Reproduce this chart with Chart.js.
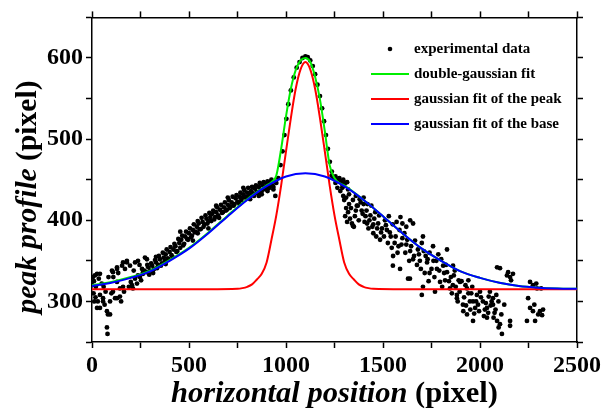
<!DOCTYPE html>
<html>
<head>
<meta charset="utf-8">
<script src="https://cdn.jsdelivr.net/npm/chart.js@4.4.1/dist/chart.umd.min.js"></script>
<style>
  html, body { margin: 0; padding: 0; background: #fff; }
</style>
</head>
<body>
<canvas id="profileChart" width="613" height="414"></canvas>
<script>
const expX = [
    // left edge scatter
    5, 15, 26, 41, 10, 35, 50, 20, 26, 41, 41, 57, 57, 77, 93, 82, 93, 77, 80, 65,
    70, 100, 108, 119, 129, 144, 144, 129, 160, 103, 108, 129, 129, 155, 160, 180, 180, 196, 222, 237,
    273, 283, 206, 211, 222, 232, 237, 247, 253, 263, 263, 270, 150, 165, 190, 200, 12, 30,
    0, 8, 18, 60, 85, 110, 135, 170, 215, 245, 258,
    // rising band
    280, 290, 300, 310, 320, 330, 340, 350, 360, 370, 380, 390, 400, 410, 420, 430, 440, 450, 460, 470,
    480, 490, 500, 510, 520, 530, 540, 550, 560, 570, 580, 590, 600, 610, 620, 630, 640, 650, 660, 670,
    680, 690, 700, 710, 720, 730, 740, 750, 760, 770, 780, 790, 800, 810, 820, 830, 840, 850, 860, 870,
    880, 890, 900, 910, 920, 930, 940, 950, 455, 520, 600, 700, 760, 860, 780, 380, 330, 640, 545, 815,
    875, 905, 935, 945,
    // the peak
    960, 972, 982, 992, 1002, 1012, 1025, 1040, 1055, 1070, 1085, 1100, 1112, 1125, 1138, 1150, 1162, 1175, 1186, 1196,
    1206, 1216, 1226, 1236,
    // falling side
    1235, 1245, 1255, 1265, 1275, 1285, 1295, 1305, 1315, 1300, 1320, 1290, 1300, 1310, 1320, 1330, 1340, 1305, 1325, 1350,
    1295, 1315, 1360, 1380, 1400, 1420, 1440, 1460, 1480, 1370, 1390, 1410, 1430, 1450, 1470, 1490, 1450, 1485, 1418, 1345,
    1400, 1360, 1510, 1530, 1550, 1570, 1590, 1600, 1620, 1640, 1655, 1520, 1540, 1560, 1580, 1600, 1620, 1640, 1660, 1680,
    1700, 1706, 1552, 1588, 1551, 1629, 1639, 1655, 1690, 1720, 1727, 1740, 1758, 1778, 1794, 1706, 1700, 1768, 1810, 1830,
    1830, 1845, 1850, 1861, 1870, 1881, 1881, 1890, 1897, 1760, 1800, 1820, 1740, 1785, 1860, 1912, 1914, 1925, 1933, 1933,
    1948, 1964, 1964, 1975, 1984, 2000, 2015, 2025, 2036, 2036, 2051, 2060, 2067, 2067, 2084, 2075, 2045, 1990, 1955, 1940,
    2088, 2103, 2139, 2155, 2170, 2160, 2145, 2088, 2103, 2113, 2096, 2155, 2155, 2242, 2248, 2258, 2258, 2273, 2273, 2284,
    2294, 2309, 2325, 2300, 2290, 2315, 2280, 2320
];
const expY = [
    330, 332, 334, 334, 325, 328, 322, 318, 292, 292, 308, 304, 300, 288, 284, 284, 300, 268, 260, 296,
    312, 310, 312, 304, 304, 306, 316, 324, 318, 338, 336, 340, 342, 344, 348, 350, 348, 344, 348, 350,
    354, 352, 320, 316, 328, 322, 332, 330, 326, 334, 336, 338, 300, 312, 318, 324, 300, 300,
    320, 310, 305, 318, 330, 330, 335, 340, 338, 345, 340,
    336, 342, 338, 344, 340, 348, 345, 352, 347, 354, 358, 353, 361, 357, 364, 368, 362, 372, 376, 369,
    380, 377, 384, 379, 388, 385, 392, 396, 389, 398, 395, 402, 399, 404, 408, 401, 410, 406, 413, 409,
    416, 412, 419, 415, 422, 418, 427, 423, 429, 425, 432, 428, 434, 430, 436, 433, 439, 435, 441, 437,
    443, 439, 445, 441, 447, 443, 448, 446, 386, 375, 390, 428, 420, 430, 440, 346, 355, 418, 384, 426,
    432, 436, 438, 430,
    452, 468, 485, 505, 525, 543, 560, 576, 588, 595, 600, 602, 601, 597, 590, 580, 567, 553, 538, 522,
    505, 488, 472, 460,
    455, 452, 454, 450, 452, 448, 450, 446, 447, 442, 438, 440, 425, 415, 410, 402, 396, 405, 420, 392,
    430, 398, 430, 426, 428, 420, 418, 410, 406, 418, 412, 405, 400, 395, 390, 385, 384, 376, 396, 393,
    420, 412, 400, 405, 395, 398, 404, 396, 392, 400, 396, 388, 380, 372, 368, 378, 370, 362, 356, 364,
    372, 380, 356, 340, 344, 328, 328, 352, 350, 356, 348, 360, 368, 340, 324, 318, 308, 312, 344, 336,
    364, 316, 330, 344, 338, 304, 308, 326, 324, 350, 352, 326, 335, 358, 320, 296, 288, 320, 316, 284,
    300, 300, 276, 292, 308, 312, 300, 290, 292, 280, 312, 300, 296, 304, 308, 286, 306, 296, 310, 326,
    342, 341, 332, 330, 334, 326, 336, 276, 272, 260, 268, 270, 276, 276, 304, 292, 324, 320, 288, 276,
    316, 288, 290, 284, 322, 316, 296, 283
];

// second pass over the dense parts of the cloud
const bandX = [
    285, 295, 305, 315, 325, 335, 345, 355, 365, 375,
    385, 395, 405, 415, 425, 435, 445, 455, 465, 475,
    485, 495, 505, 515, 525, 535, 545, 555, 565, 575,
    585, 595, 605, 615, 625, 635, 645, 655, 665, 675,
    685, 695, 705, 715, 725, 735, 745, 755, 765, 775,
    785, 795, 805, 815, 825, 835, 845, 855, 865, 875,
    885, 895, 905, 915, 925, 935
];
const bandY = [
    345, 333, 347, 335, 351, 341, 356, 344, 360, 350,
    364, 352, 367, 355, 371, 361, 377, 366, 381, 371,
    386, 376, 390, 381, 395, 386, 399, 389, 403, 392,
    406, 396, 409, 399, 412, 404, 416, 403, 419, 410,
    422, 413, 425, 417, 429, 420, 431, 422, 434, 428,
    437, 429, 440, 432, 441, 430, 443, 433, 446, 436,
    447, 438, 448, 440, 450, 441
];
const tailX = [
    1255, 1265, 1280, 1290, 1310, 1325, 1335, 1345, 1355, 1365,
    1375, 1385, 1395, 1405, 1415, 1425, 1435, 1445, 1455, 1465,
    1475, 1495, 1505, 1515, 1525, 1535, 1545, 1565, 1575, 1585,
    1595, 1610, 1615, 1625, 1635, 1645, 1665, 1675, 1685, 1695,
    1710, 1715, 1730, 1735, 1750, 1765, 1775, 1790, 1805, 1815,
    1825, 1840, 1855, 1865, 1875, 1885, 1895, 1905, 1918, 1928,
    1940, 1950, 1960, 1970, 1980, 1995, 2005, 2020, 2030, 2042,
    2055, 2070, 2080, 2095, 2110, 2125
];
const tailY = [
    446, 440, 436, 444, 428, 432, 415, 425, 405, 418,
    400, 422, 408, 398, 412, 390, 406, 392, 402, 380,
    396, 390, 380, 394, 372, 385, 366, 380, 360, 388,
    370, 384, 360, 376, 350, 368, 375, 345, 358, 340,
    362, 335, 352, 325, 340, 330, 350, 338, 318, 335,
    345, 325, 310, 332, 318, 300, 312, 325, 305, 295,
    310, 290, 318, 285, 300, 288, 305, 282, 298, 286,
    295, 280, 290, 300, 284, 296
];

// double-gaussian fit
const dblX = [0, 100, 200, 300, 400, 500, 600, 700, 800, 900,
    925, 950, 975, 1000, 1025, 1050, 1075, 1100, 1125, 1150, 1175, 1200, 1225, 1250, 1275, 1300,
    1400, 1500, 1600, 1700, 1800, 1900, 2000, 2100, 2200, 2300, 2400, 2500];
const dblY = [320, 324, 330, 338, 351, 366, 385, 406, 426, 443,
    447, 455, 488, 528, 562, 585, 597, 600, 595, 577, 549, 510, 468, 452, 446, 443,
    425, 405, 384, 365, 350, 337, 329, 323, 319, 317, 316, 315.5];

// gaussian fit of the peak
const peakX = [0, 600, 750, 775, 800, 825, 850, 875, 900, 925, 950, 975, 1000, 1025, 1050, 1075, 1100,
    1125, 1150, 1175, 1200, 1225, 1250, 1275, 1300, 1325, 1350, 1375, 1400, 1425, 1450, 1600, 2500];
const peakY = [315, 315, 315.6, 316.4, 318, 321, 327, 334, 348, 376, 406, 443, 485, 526, 562, 586, 595,
    586, 562, 526, 485, 443, 406, 376, 348, 334, 327, 321, 318, 316.4, 315.6, 315, 315];

// gaussian fit of the base
const baseX = [0, 100, 200, 300, 400, 500, 600, 700, 800, 900, 1000, 1100, 1200,
    1300, 1400, 1500, 1600, 1700, 1800, 1900, 2000, 2100, 2200, 2300, 2400, 2500];
const baseY = [319, 323, 329, 337, 350, 365, 384, 405, 425, 442, 454, 458, 454,
    442, 425, 405, 384, 365, 350, 337, 329, 323, 319, 317, 316, 315.5];

const xTicks = [0, 500, 1000, 1500, 2000, 2500];
const yTicks = [300, 400, 500, 600];

const SERIF = '"Liberation Serif", "DejaVu Serif", serif';

function toPoints(xs, ys) {
    return xs.map((x, i) => ({ x: x, y: ys[i] }));
}

// axis titles (mixed italic / upright) and the legend box
const decorPlugin = {
    id: 'decor',
    afterDraw(chart) {
        const ctx = chart.ctx;
        const area = chart.chartArea;
        ctx.save();
        ctx.fillStyle = '#000';
        ctx.textBaseline = 'alphabetic';

        // x title
        drawMixed(ctx, 'horizontal position', ' (pixel)', 327, (area.left + area.right) / 2, 402, 0);
        // y title
        drawMixed(ctx, 'peak profile', ' (pixel)', 233, 36, 197, -Math.PI / 2);

        // legend
        const rows = [49, 74, 99, 124];
        ctx.font = 'bold 15px ' + SERIF;
        chart.data.datasets.forEach((ds, i) => {
            const y = rows[i];
            if (ds.showLine) {
                ctx.strokeStyle = ds.borderColor;
                ctx.lineWidth = 2;
                ctx.beginPath();
                ctx.moveTo(371, y);
                ctx.lineTo(409, y);
                ctx.stroke();
            } else {
                ctx.beginPath();
                ctx.arc(390, y, 2.3, 0, Math.PI * 2);
                ctx.fill();
            }
            ctx.fillStyle = '#000';
            ctx.textBaseline = 'middle';
            ctx.fillText(ds.label, 414, y);
        });
        ctx.restore();
    }
};

function drawMixed(ctx, italicPart, plainPart, targetLen, cx, cy, angle) {
    let size = 26;
    ctx.font = 'italic bold ' + size + 'px ' + SERIF;
    let w1 = ctx.measureText(italicPart).width;
    ctx.font = 'bold ' + size + 'px ' + SERIF;
    let w2 = ctx.measureText(plainPart).width;
    size = size * targetLen / (w1 + w2);
    ctx.font = 'italic bold ' + size + 'px ' + SERIF;
    w1 = ctx.measureText(italicPart).width;
    ctx.font = 'bold ' + size + 'px ' + SERIF;
    w2 = ctx.measureText(plainPart).width;

    ctx.save();
    ctx.translate(cx, cy);
    ctx.rotate(angle);
    ctx.textAlign = 'left';
    const start = -(w1 + w2) / 2;
    ctx.font = 'italic bold ' + size + 'px ' + SERIF;
    ctx.fillText(italicPart, start, 0);
    ctx.font = 'bold ' + size + 'px ' + SERIF;
    ctx.fillText(plainPart, start + w1, 0);
    ctx.restore();
}

const tickFont = { family: SERIF, size: 24, weight: 'bold' };
const axisGrid = { drawOnChartArea: false, tickLength: 6, tickColor: '#000', tickWidth: 1.5 };
const axisBorder = { color: '#000', width: 1.5 };

const ctx = document.getElementById('profileChart').getContext('2d');
new Chart(ctx, {
    type: 'scatter',
    data: {
        datasets: [
            {
                label: 'experimental data',
                data: toPoints(expX, expY).concat(toPoints(bandX, bandY), toPoints(tailX, tailY)),
                backgroundColor: '#000',
                borderColor: '#000',
                pointRadius: 2.4,
                borderWidth: 0,
                showLine: false,
                order: 4
            },
            {
                label: 'double-gaussian fit',
                data: toPoints(dblX, dblY),
                borderColor: '#00ee00',
                borderWidth: 2,
                pointRadius: 0,
                showLine: true,
                cubicInterpolationMode: 'monotone',
                order: 3
            },
            {
                label: 'gaussian fit of the peak',
                data: toPoints(peakX, peakY),
                borderColor: '#ff0000',
                borderWidth: 2,
                pointRadius: 0,
                showLine: true,
                cubicInterpolationMode: 'monotone',
                order: 2
            },
            {
                label: 'gaussian fit of the base',
                data: toPoints(baseX, baseY),
                borderColor: '#0000ff',
                borderWidth: 2,
                pointRadius: 0,
                showLine: true,
                cubicInterpolationMode: 'monotone',
                order: 1
            }
        ]
    },
    options: {
        responsive: false,
        animation: false,
        layout: { padding: 0 },
        plugins: {
            legend: { display: false },
            tooltip: { enabled: false }
        },
        scales: {
            x: {
                type: 'linear', position: 'bottom', min: 0, max: 2500,
                afterFit: s => { s.height = 72; },
                grid: axisGrid, border: axisBorder,
                ticks: {
                    stepSize: 250, autoSkip: false, maxRotation: 0, padding: 3,
                    color: '#000', font: tickFont,
                    callback: v => xTicks.includes(v) ? v : ''
                }
            },
            xTop: {
                type: 'linear', position: 'top', min: 0, max: 2500,
                afterFit: s => { s.height = 11; },
                grid: axisGrid, border: axisBorder,
                ticks: { stepSize: 250, autoSkip: false, display: false }
            },
            y: {
                type: 'linear', position: 'left', min: 250, max: 650,
                afterFit: s => { s.width = 92; },
                grid: axisGrid, border: axisBorder,
                ticks: {
                    stepSize: 50, autoSkip: false, padding: 3,
                    color: '#000', font: tickFont,
                    callback: v => yTicks.includes(v) ? v : ''
                }
            },
            yRight: {
                type: 'linear', position: 'right', min: 250, max: 650,
                afterFit: s => { s.width = 36; },
                grid: axisGrid, border: axisBorder,
                ticks: { stepSize: 50, autoSkip: false, display: false }
            }
        }
    },
    plugins: [decorPlugin]
});
</script>
</body>
</html>
